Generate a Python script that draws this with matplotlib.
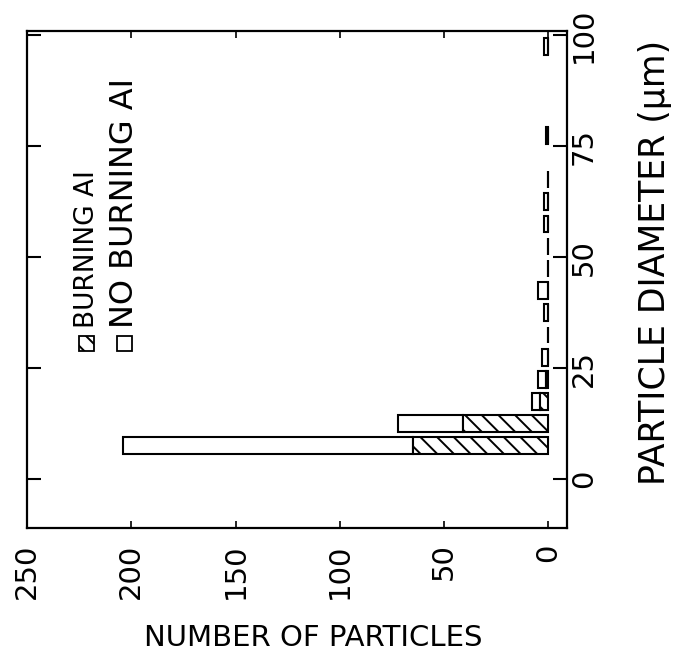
import matplotlib
matplotlib.use("Agg")
import matplotlib.pyplot as plt
from matplotlib.patches import Rectangle

# particle diameter bins (µm, bin centres) and counts per bin
bin_centers = [7.5, 12.5, 17.5, 22.5, 27.5, 32.5, 37.5, 42.5, 47.5, 52.5,
               57.5, 62.5, 67.5, 77.5, 97.5]
burning = [65, 41, 4, 1, 0, 0, 0, 0, 0, 0, 0, 0, 0, 0, 0]
no_burning = [139, 31, 4, 4, 3, 0, 2, 5, 0, 0, 2, 2, 0, 1, 2]

count_ticks = [0, 50, 100, 150, 200, 250]
diameter_ticks = [0, 25, 50, 75, 100]

plt.rcParams["hatch.linewidth"] = 1.4

fig = plt.figure(figsize=(6.84, 6.58), dpi=100)
ax = fig.add_axes([0.0395, 0.1976, 0.7895, 0.7553])

# chart is drawn turned on its side: counts run right-to-left, diameter upward
ax.barh(bin_centers, no_burning, left=burning, height=3.8,
        facecolor="white", edgecolor="black", linewidth=1.5)
ax.barh(bin_centers, burning, height=3.8, facecolor="white",
        edgecolor="black", linewidth=1.5, hatch="\\\\")

ax.set_xlim(250, -9)
ax.set_ylim(-11, 101)

for s in ax.spines.values():
    s.set_linewidth(1.6)

ax.set_xticks(count_ticks)
ax.set_xticklabels([str(v) for v in count_ticks], rotation=90, fontsize=21)
ax.tick_params(axis="x", direction="in", top=True, bottom=True,
               length=5, width=1.2, pad=11)

ax.set_yticks(diameter_ticks)
ax.set_yticklabels([str(v) for v in diameter_ticks], rotation=90,
                   fontsize=21, va="center")
ax.yaxis.tick_right()
ax.tick_params(axis="y", direction="in", left=True, right=True,
               labelleft=False, labelright=True, length=10, width=1.5, pad=2)

ax.set_xlabel("NUMBER OF PARTICLES", fontsize=21)
ax.xaxis.label.set_va("center")
ax.xaxis.set_label_coords(0.53, -0.222)

ax.yaxis.set_label_position("right")
ax.set_ylabel("PARTICLE DIAMETER (μm)", fontsize=25, rotation=90)
ax.yaxis.label.set_va("center")
ax.yaxis.set_label_coords(1.163, 0.535)

# legend, written sideways like the rest of the figure
bw, bh = 15 / 540, 15 / 497
ax.add_patch(Rectangle((0.111 - bw / 2, 0.372 - bh / 2), bw, bh,
                       transform=ax.transAxes, facecolor="white",
                       edgecolor="black", linewidth=1.3, hatch="\\\\"))
ax.text(0.111, 0.402, "BURNING AI", transform=ax.transAxes, rotation=90,
        ha="center", va="bottom", fontsize=19)
ax.add_patch(Rectangle((0.180 - bw / 2, 0.372 - bh / 2), bw, bh,
                       transform=ax.transAxes, facecolor="white",
                       edgecolor="black", linewidth=1.3))
ax.text(0.180, 0.402, "NO BURNING AI", transform=ax.transAxes, rotation=90,
        ha="center", va="bottom", fontsize=23)

fig.savefig("out.png", dpi=100)
